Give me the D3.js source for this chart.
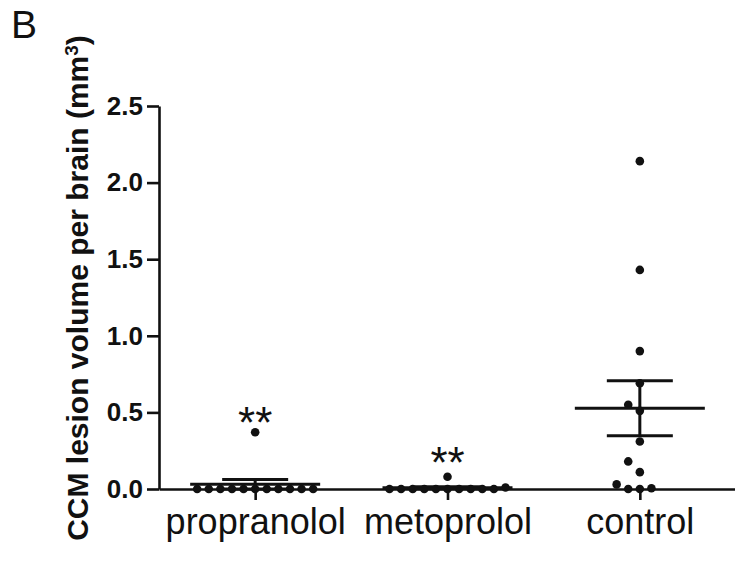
<!DOCTYPE html>
<html>
<head>
<meta charset="utf-8">
<script src="https://cdn.jsdelivr.net/npm/d3@7"></script>
<style>
  body { margin: 0; background: #fff; }
  svg { display: block; font-family: "Liberation Sans", Arial, sans-serif; }
  .axis path, .axis line { stroke: #111; stroke-width: 2.6px; }
  .axis text { fill: #111; }
</style>
</head>
<body>
<div id="chart"></div>
<script>
// values (mm3)
const groups = ['propranolol', 'metoprolol', 'control'];
const propranolol = [0, 0, 0, 0, 0, 0, 0, 0, 0, 0, 0, 0.37];
const metoprolol = [0, 0, 0, 0, 0, 0, 0, 0, 0, 0, 0.01, 0.08];
const control = [0, 0, 0.005, 0.03, 0.11, 0.18, 0.31, 0.51, 0.55, 0.69, 0.90, 1.43, 2.14];
const yTicks = [0, 0.5, 1.0, 1.5, 2.0, 2.5];
const starLabels = ['**', '**', ''];
const starLevels = [0.33, 0.075, null];

const series = [propranolol, metoprolol, control];

const W = 735, H = 565;
const svg = d3.select('#chart').append('svg')
    .attr('width', W)
    .attr('height', H);

const x = d3.scalePoint()
    .domain(groups)
    .range([159, 736])
    .padding(0.5);

const y = d3.scaleLinear()
    .domain([0, 2.5])
    .range([489, 106]);

// axes
svg.append('g')
    .attr('class', 'axis')
    .attr('transform', 'translate(159,0)')
    .call(d3.axisLeft(y)
        .tickValues(yTicks)
        .tickFormat(d3.format('.1f'))
        .tickSize(12)
        .tickSizeOuter(0)
        .tickPadding(4))
    .selectAll('text')
    .style('font-size', '26px')
    .style('font-weight', 'bold');

svg.append('g')
    .attr('class', 'axis')
    .attr('transform', `translate(0,${y(0)})`)
    .call(d3.axisBottom(x)
        .tickSize(11)
        .tickSizeOuter(0)
        .tickPadding(8))
    .selectAll('text')
    .style('font-size', '36px')
    .attr('dy', '0.71em');

// scatter columns, overlapping points pushed sideways
const step = 11.6, r = 4.3;
function spread(vals) {
    const placed = [];
    const sorted = vals.slice().sort((a, b) => a - b);
    sorted.forEach(v => {
        const py = y(v);
        for (let k = 0; k < 40; k++) {
            const off = k === 0 ? 0 : (k % 2 ? -Math.ceil(k / 2) : k / 2);
            const hit = placed.some(p => p.off === off && Math.abs(p.py - py) < step);
            if (!hit) { placed.push({ v: v, py: py, off: off }); break; }
        }
    });
    return placed;
}

series.forEach((vals, i) => {
    const cx = x(groups[i]);
    const g = svg.append('g');
    const pts = spread(vals);

    g.selectAll('circle')
        .data(pts)
        .enter().append('circle')
        .attr('cx', d => cx + d.off * step)
        .attr('cy', d => d.py)
        .attr('r', r)
        .attr('fill', '#111');

    const m = d3.mean(vals);
    const sem = d3.deviation(vals) / Math.sqrt(vals.length);

    g.append('line')
        .attr('x1', cx - 65).attr('x2', cx + 65)
        .attr('y1', y(m)).attr('y2', y(m))
        .attr('stroke', '#111').attr('stroke-width', 3);
    g.append('line')
        .attr('x1', cx).attr('x2', cx)
        .attr('y1', y(m + sem)).attr('y2', y(Math.max(0, m - sem)))
        .attr('stroke', '#111').attr('stroke-width', 3);
    [m + sem, m - sem].forEach(e => {
        if (e < 0) return;
        g.append('line')
            .attr('x1', cx - 33).attr('x2', cx + 33)
            .attr('y1', y(e)).attr('y2', y(e))
            .attr('stroke', '#111').attr('stroke-width', 3);
    });

    if (starLabels[i]) {
        svg.append('text')
            .attr('x', cx)
            .attr('y', y(starLevels[i]))
            .attr('text-anchor', 'middle')
            .style('font-size', '44px')
            .attr('fill', '#111')
            .text(starLabels[i]);
    }
});

// y title
const title = svg.append('text')
    .attr('transform', `translate(88,288) rotate(-90)`)
    .attr('text-anchor', 'middle')
    .style('font-size', '30px')
    .style('font-weight', 'bold')
    .attr('fill', '#111');
title.append('tspan').text('CCM lesion volume per brain (mm');
title.append('tspan').attr('dy', '-0.55em').style('font-size', '19px').text('3');
title.append('tspan').attr('dy', '0.35em').text(')');

// panel letter
svg.append('text')
    .attr('x', 11)
    .attr('y', 38)
    .style('font-size', '39px')
    .attr('fill', '#111')
    .text('B');
</script>
</body>
</html>
